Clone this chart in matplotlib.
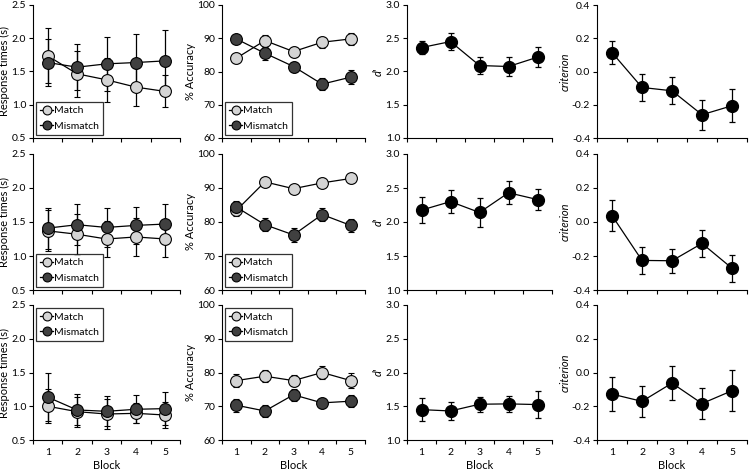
import numpy as np
from matplotlib import pyplot as plt
from matplotlib.ticker import FormatStrFormatter, MultipleLocator, FixedLocator

plt.rcParams['font.family'] = ['Lato', 'DejaVu Sans']

blocks = [1, 2, 3, 4, 5]

# response times (s), rows = experiments
rt_match = [[1.735, 1.465, 1.375, 1.265, 1.20],
            [1.37, 1.32, 1.25, 1.28, 1.25],
            [1.00, 0.92, 0.885, 0.895, 0.87]]
rt_match_err = [[0.415, 0.35, 0.33, 0.29, 0.24],
                [0.30, 0.30, 0.27, 0.28, 0.27],
                [0.25, 0.22, 0.22, 0.15, 0.19]]
rt_mismatch = [[1.635, 1.565, 1.615, 1.635, 1.66],
               [1.41, 1.46, 1.42, 1.45, 1.47],
               [1.135, 0.945, 0.925, 0.955, 0.965]]
rt_mismatch_err = [[0.35, 0.35, 0.41, 0.43, 0.47],
                   [0.30, 0.30, 0.29, 0.27, 0.30],
                   [0.36, 0.23, 0.22, 0.21, 0.25]]

# % accuracy
acc_match = [[84.0, 89.3, 86.0, 88.8, 89.8],
             [83.4, 91.8, 89.8, 91.5, 92.8],
             [77.6, 78.9, 77.6, 80.0, 77.6]]
acc_match_err = [[1.4, 1.7, 1.5, 1.7, 1.7],
                 [1.6, 1.2, 1.2, 1.3, 1.2],
                 [2.0, 1.7, 1.6, 1.8, 2.2]]
acc_mismatch = [[89.8, 85.5, 81.5, 76.2, 78.3],
                [84.4, 79.2, 76.2, 82.2, 79.0],
                [70.3, 68.6, 73.4, 71.0, 71.5]]
acc_mismatch_err = [[1.2, 2.0, 1.5, 1.8, 2.2],
                    [1.9, 1.9, 2.1, 1.9, 1.9],
                    [1.9, 1.9, 1.8, 1.5, 1.8]]

# d'
dprime = [[2.36, 2.45, 2.09, 2.075, 2.215],
          [2.175, 2.30, 2.14, 2.43, 2.33],
          [1.45, 1.43, 1.53, 1.535, 1.525]]
dprime_err = [[0.10, 0.13, 0.13, 0.15, 0.15],
              [0.19, 0.17, 0.21, 0.17, 0.15],
              [0.17, 0.13, 0.11, 0.12, 0.20]]

# criterion
crit = [[0.114, -0.096, -0.116, -0.26, -0.206],
        [0.038, -0.226, -0.228, -0.126, -0.272],
        [-0.128, -0.171, -0.063, -0.184, -0.108]]
crit_err = [[0.07, 0.08, 0.08, 0.09, 0.10],
            [0.09, 0.08, 0.07, 0.08, 0.08],
            [0.10, 0.09, 0.10, 0.09, 0.12]]

W, H = 753, 471
fig = plt.figure(figsize=(W / 100, H / 100), dpi=100)

cols_px = [(33, 180), (222, 365), (407, 552), (597, 747)]
rows_px = [(5, 138), (154, 290), (305, 440)]


def style_axis(ax, ylim, step, fmt, ylabel, italic, bottom):
    ax.set_xlim(0.5, 5.5)
    ax.set_ylim(*ylim)
    ax.yaxis.set_major_locator(MultipleLocator(step))
    ax.yaxis.set_major_formatter(FormatStrFormatter(fmt))
    ax.spines['top'].set_visible(False)
    ax.spines['right'].set_visible(False)
    ax.tick_params(axis='y', direction='out', length=3, width=0.8, labelsize=7.5, pad=2)
    ax.xaxis.set_major_locator(FixedLocator(blocks))
    ax.xaxis.set_minor_locator(FixedLocator(np.arange(0.5, 6, 1)))
    ax.tick_params(axis='x', which='major', length=0, labelsize=7.5, pad=6)
    ax.tick_params(axis='x', which='minor', direction='out', length=3, width=0.8)
    if bottom:
        ax.set_xticklabels([str(b) for b in blocks])
        ax.set_xlabel('Block', fontsize=8, labelpad=2)
    else:
        ax.set_xticklabels([])
    ax.set_ylabel(ylabel, fontsize=8, style='italic' if italic else 'normal', labelpad=1)


def plot_pair(ax, m, me, mm, mme, legend_loc):
    kw = dict(color='black', lw=0.9, marker='o', markersize=8.5, markeredgecolor='black',
              markeredgewidth=0.8, elinewidth=0.9, ecolor='black', capsize=2, capthick=0.9)
    c1 = ax.errorbar(blocks, m, yerr=me, markerfacecolor='#d4d4d4', **kw)
    c2 = ax.errorbar(blocks, mm, yerr=mme, markerfacecolor='#404040', **kw)
    leg = ax.legend([c1[0], c2[0]], ['Match', 'Mismatch'], loc=legend_loc, fontsize=7.5,
                    frameon=True, fancybox=False, handlelength=1.2, handletextpad=0.1,
                    numpoints=1, borderaxespad=0.3, labelspacing=0.6, borderpad=0.4,
                    markerscale=0.75)
    leg.get_frame().set_edgecolor('black')
    leg.get_frame().set_linewidth(0.9)


def plot_single(ax, v, e):
    ax.errorbar(blocks, v, yerr=e, color='black', lw=0.9, marker='o', markersize=8.5,
                markerfacecolor='black', markeredgecolor='black', elinewidth=0.9,
                ecolor='black', capsize=2, capthick=0.9)


for r in range(3):
    top, bot = rows_px[r]
    axes = []
    for c in range(4):
        l, rr = cols_px[c]
        axes.append(fig.add_axes([l / W, 1 - bot / H, (rr - l) / W, (bot - top) / H]))
    bottom = r == 2
    loc = 'upper left' if r == 2 else 'lower left'

    plot_pair(axes[0], rt_match[r], rt_match_err[r], rt_mismatch[r], rt_mismatch_err[r], loc)
    style_axis(axes[0], (0.5, 2.5), 0.5, '%.1f', 'Response times (s)', False, bottom)

    plot_pair(axes[1], acc_match[r], acc_match_err[r], acc_mismatch[r], acc_mismatch_err[r], loc)
    style_axis(axes[1], (60, 100), 10, '%d', '% Accuracy', False, bottom)

    plot_single(axes[2], dprime[r], dprime_err[r])
    style_axis(axes[2], (1.0, 3.0), 0.5, '%.1f', "d'", True, bottom)

    plot_single(axes[3], crit[r], crit_err[r])
    style_axis(axes[3], (-0.4, 0.4), 0.2, '%.1f', 'criterion', True, bottom)

fig.savefig('out.png', dpi=100)
